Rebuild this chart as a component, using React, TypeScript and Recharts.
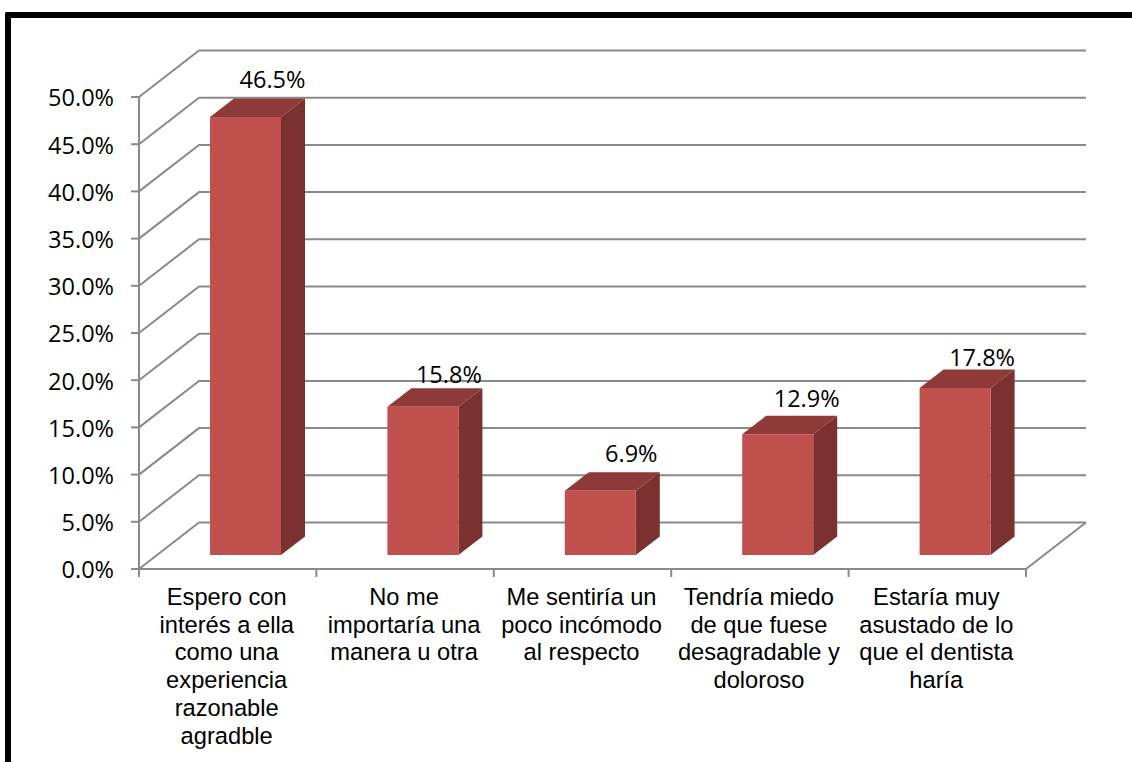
import React from "react";
import { BarChart, Bar, XAxis, YAxis, CartesianGrid, LabelList } from "recharts";

const CATEGORIES = [
  "Espero con\ninterés a ella\ncomo una\nexperiencia\nrazonable\nagradble",
  "No me\nimportaría una\nmanera u otra",
  "Me sentiría un\npoco incómodo\nal respecto",
  "Tendría miedo\nde que fuese\ndesagradable y\ndoloroso",
  "Estaría muy\nasustado de lo\nque el dentista\nharía",
];
const VALUES = [46.5, 15.8, 6.9, 12.9, 17.8];
const Y_TICKS = [0, 5, 10, 15, 20, 25, 30, 35, 40, 45, 50];

// the labels were placed by hand in the original, so they drift a little
const LABEL_NUDGE_X = [27, 26, 31, 29, 27];
const LABEL_NUDGE_Y = [0, 5, 0, 2, 7];

const GRID_COLOR = "#8a8a8a";
const WALL_DX = 60; // depth of the fake 3d box
const WALL_DY = -46.5;
const BAR_DX = 18; // bars stand in the middle of the floor
const BAR_DY = -14;
const SIDE_DX = 24;
const SIDE_DY = -18.5;

const PLOT_WIDTH = 887;

const data = CATEGORIES.map((name, i) => ({ name, value: VALUES[i] }));

const Bar3D = ({ x, y, width, height }: any) => {
  const left = x + BAR_DX;
  const right = left + width;
  const top = y + BAR_DY + 1; // tops sit about a pixel lower than the scale says
  const bottom = y + BAR_DY + height;
  return (
    <g>
      <polygon
        points={`${left},${top} ${left + SIDE_DX},${top + SIDE_DY} ${right + SIDE_DX},${top + SIDE_DY} ${right},${top}`}
        fill="#8e3a38"
      />
      <polygon
        points={`${right},${top} ${right + SIDE_DX},${top + SIDE_DY} ${right + SIDE_DX},${bottom + SIDE_DY} ${right},${bottom}`}
        fill="#7b312f"
      />
      <rect x={left} y={top} width={width} height={bottom - top} fill="#c0504d" />
    </g>
  );
};

// each grid line is the back wall line plus the diagonal coming from the axis
const WallLine = ({ x1, x2, y1, index }: any) => (
  <g key={index} fill="none" stroke={GRID_COLOR} strokeWidth={2}>
    <polyline points={`${x1},${y1} ${x1 + WALL_DX},${y1 + WALL_DY} ${x2 + WALL_DX},${y1 + WALL_DY}`} />
    {index === 0 && <line x1={x2} y1={y1} x2={x2 + WALL_DX} y2={y1 + WALL_DY} />}
  </g>
);

const CategoryTick = ({ x, y, payload, index }: any) => {
  const step = PLOT_WIDTH / CATEGORIES.length;
  const lines: string[] = payload.value.split("\n");
  return (
    <g>
      <line x1={x - step / 2} x2={x - step / 2} y1={y - 8} y2={y} stroke={GRID_COLOR} strokeWidth={2} />
      {index === CATEGORIES.length - 1 && (
        <line x1={x + step / 2} x2={x + step / 2} y1={y - 8} y2={y} stroke={GRID_COLOR} strokeWidth={2} />
      )}
      <text x={x - 1} y={y + 28} textAnchor="middle" fontSize={23.7} fontFamily="Liberation Sans" fill="#000">
        {lines.map((line, i) => (
          <tspan key={i} x={x - 1} dy={i === 0 ? 0 : 27.7}>
            {line}
          </tspan>
        ))}
      </text>
    </g>
  );
};

const ValueLabel = ({ x, y, width, value, index }: any) => (
  <text
    x={x + BAR_DX + width / 2 + LABEL_NUDGE_X[index]}
    y={y + BAR_DY + 6 + LABEL_NUDGE_Y[index]}
    dy={-34}
    textAnchor="middle"
    fontSize={23.5}
    fontFamily="Open Sans"
    fill="#000"
  >
    {`${value.toFixed(1)}%`}
  </text>
);

export default function App() {
  return (
    <div style={{ position: "absolute", left: 0, top: 0, width: 1132, height: 762, background: "#fff", overflow: "hidden" }}>
      <div
        style={{
          position: "absolute",
          left: 5,
          top: 11.5,
          width: 1127,
          height: 750.5,
          boxSizing: "border-box",
          borderLeft: "6px solid #000",
          borderTop: "6px solid #000",
          borderTopLeftRadius: 2,
        }}
      />
      <div style={{ position: "absolute", left: 0, top: 0 }}>
        <BarChart
          width={1132}
          height={762}
          data={data}
          barSize={71}
          margin={{ top: 97, right: 106, bottom: 93, left: 39 }}
        >
          <CartesianGrid vertical={false} horizontal={<WallLine />} />
          <XAxis
            dataKey="name"
            height={100}
            interval={0}
            stroke={GRID_COLOR}
            strokeWidth={2}
            tickLine={false}
            tick={<CategoryTick />}
          />
          <YAxis
            width={100}
            domain={[0, 50]}
            ticks={Y_TICKS}
            interval={0}
            stroke={GRID_COLOR}
            strokeWidth={2}
            tickSize={8}
            tickMargin={17}
            tickFormatter={(v: number) => `${v.toFixed(1)}%`}
            tick={{ fill: "#000", fontSize: 23.5, fontFamily: "Open Sans", dy: 1 }}
          />
          <Bar dataKey="value" isAnimationActive={false} shape={<Bar3D />}>
            <LabelList dataKey="value" content={<ValueLabel />} />
          </Bar>
        </BarChart>
      </div>
    </div>
  );
}
